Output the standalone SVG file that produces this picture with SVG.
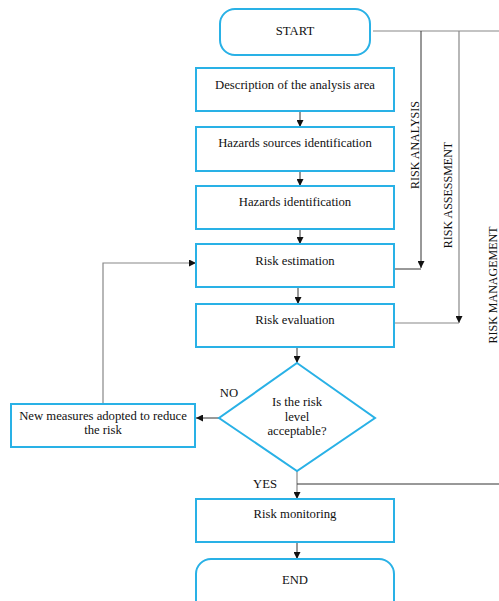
<svg xmlns="http://www.w3.org/2000/svg" width="499" height="601" viewBox="0 0 499 601">
<defs>
<marker id="ah" viewBox="0 0 10 10" refX="10" refY="5" markerWidth="7" markerHeight="7" markerUnits="userSpaceOnUse" orient="auto">
<path d="M0,0 L10,5 L0,10 z" fill="#111"/>
</marker>
</defs>
<style>
.box{fill:#fff;stroke:#29b1e6;stroke-width:2}
.t{font-family:'Liberation Serif','Times New Roman',serif;font-size:12.7px;fill:#111;text-anchor:middle}
.r{font-size:12px}
.c{fill:none;stroke:#333;stroke-width:1}
.g{fill:none;stroke:#888;stroke-width:1.2}
</style>
<rect width="499" height="601" fill="#fff"/>
<g id="connectors">
<path class="g" d="M373,31 H499"/>
<path class="c" d="M421,31 V268" marker-end="url(#ah)"/>
<path class="c" d="M394,269 H421"/>
<path class="g" d="M459,31 V323" marker-end="url(#ah)"/>
<path class="g" d="M394,323 H459"/>
<path class="c" d="M300,111 V127" marker-end="url(#ah)"/>
<path class="c" d="M300,171 V186" marker-end="url(#ah)"/>
<path class="c" d="M300,229 V244" marker-end="url(#ah)"/>
<path class="c" d="M298,287 V304" marker-end="url(#ah)"/>
<path class="c" d="M297,347 V363" marker-end="url(#ah)"/>
<path class="c" d="M219,418 H196" marker-end="url(#ah)"/>
<path class="g" d="M103,404 V263 H196" marker-end="url(#ah)"/>
<path class="g" d="M297,471 V499" marker-end="url(#ah)"/>
<path class="c" d="M297,484 H499"/>
<path class="c" d="M297,542 V559" marker-end="url(#ah)"/>
</g>
<g id="start"><rect class="box" x="220" y="9" width="150" height="46" rx="15"/><text class="t" x="295" y="35">START</text></g>
<g id="description"><rect class="box" x="196" y="68" width="198" height="43"/><text class="t" x="295" y="89">Description of the analysis area</text></g>
<g id="hazards-sources"><rect class="box" x="196" y="127" width="198" height="44"/><text class="t" x="295" y="147">Hazards sources identification</text></g>
<g id="hazards-id"><rect class="box" x="196" y="186" width="198" height="43"/><text class="t" x="295" y="206">Hazards identification</text></g>
<g id="risk-estimation"><rect class="box" x="196" y="244" width="198" height="43"/><text class="t" x="295" y="265">Risk estimation</text></g>
<g id="risk-evaluation"><rect class="box" x="196" y="304" width="198" height="43"/><text class="t" x="295" y="324">Risk evaluation</text></g>
<g id="decision"><path class="box" d="M297,363 L375,418 L297,471 L219,418 Z"/><text class="t" x="297" y="406">Is the risk</text><text class="t" x="297" y="421">level</text><text class="t" x="297" y="435">acceptable?</text></g>
<g id="new-measures"><rect class="box" x="11" y="404" width="184" height="43"/><text class="t" x="103" y="420">New measures adopted to reduce</text><text class="t" x="103" y="434">the risk</text></g>
<g id="risk-monitoring"><rect class="box" x="196" y="499" width="198" height="43"/><text class="t" x="295" y="518">Risk monitoring</text></g>
<g id="end"><rect class="box" x="196" y="559" width="198" height="56" rx="15"/><text class="t" x="295" y="584">END</text></g>
<g id="labels">
<text class="t" x="229" y="397">NO</text>
<text class="t" x="265" y="488">YES</text>
<text class="t r" transform="translate(419,145) rotate(-90)">RISK ANALYSIS</text>
<text class="t r" transform="translate(452,195) rotate(-90)">RISK ASSESSMENT</text>
<text class="t r" transform="translate(497,285) rotate(-90)">RISK MANAGEMENT</text>
</g>
</svg>
